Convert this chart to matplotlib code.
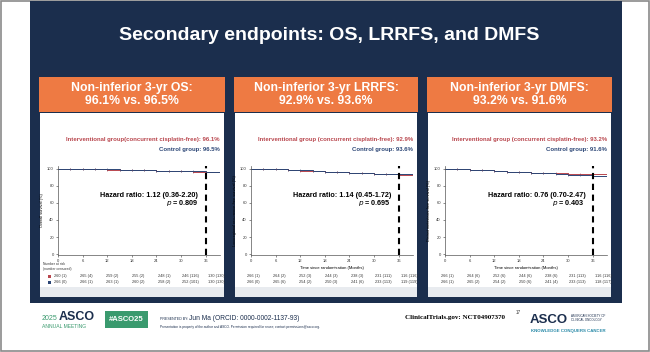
import matplotlib
matplotlib.use("Agg")
import matplotlib.pyplot as plt
from matplotlib.patches import Rectangle

plt.rcParams['font.family'] = ['Liberation Sans', 'DejaVu Sans']

W, H = 650, 352
NAVY = "#1b2e4d"
ORANGE = "#ee7a43"
RED = "#b9474e"
BLUE = "#2c4676"

# ---- data ----
panel_titles = ["Non-inferior 3-yr OS:\n96.1% vs. 96.5%",
                "Non-inferior 3-yr LRRFS:\n92.9% vs. 93.6%",
                "Non-inferior 3-yr DMFS:\n93.2% vs. 91.6%"]
red_labels = ["Interventional group(concurrent cisplatin-free): 96.1%",
              "Interventional group (concurrent cisplatin-free): 92.9%",
              "Interventional group (concurrent cisplatin-free): 93.2%"]
blue_labels = ["Control group: 96.5%", "Control group: 93.6%", "Control group: 91.6%"]
hazard_texts = ["Hazard ratio: 1.12 (0.36-2.20)",
                "Hazard ratio: 1.14 (0.45-1.72)",
                "Hazard ratio: 0.76 (0.70-2.47)"]
p_texts = ["0.809", "0.695", "0.403"]
ylabels = ["Overall survival (%)",
           "Locoregional recurrence-free survival (%)",
           "Distant metastasis-free survival (%)"]

times = [0, 3, 6, 9, 12, 15, 18, 21, 24, 27, 30, 33, 36, 39.5]
os_int = [100, 99.8, 99.5, 99.2, 98.9, 98.6, 98.2, 97.8, 97.4, 97.0, 96.6, 96.3, 96.1, 96.1]
os_ctl = [100, 99.8, 99.6, 99.3, 99.0, 98.7, 98.3, 97.9, 97.5, 97.2, 96.9, 96.7, 96.5, 96.5]
lrrfs_int = [100, 99.6, 99.0, 98.4, 97.6, 96.9, 96.2, 95.5, 94.9, 94.3, 93.7, 93.3, 92.9, 92.9]
lrrfs_ctl = [100, 99.7, 99.2, 98.6, 97.9, 97.2, 96.5, 95.8, 95.2, 94.7, 94.2, 93.9, 93.6, 93.6]
dmfs_int = [100, 99.6, 98.8, 97.8, 96.9, 96.3, 95.8, 95.3, 94.8, 94.3, 93.8, 93.5, 93.2, 93.2]
dmfs_ctl = [100, 99.8, 98.9, 97.9, 97.0, 96.4, 95.8, 95.2, 94.5, 93.7, 92.9, 92.2, 91.6, 90.0]
curves = [(os_int, os_ctl), (lrrfs_int, lrrfs_ctl), (dmfs_int, dmfs_ctl)]

xticks = [0, 6, 12, 18, 24, 30, 36]
risk_int = [["260 (1)", "265 (4)", "259 (2)", "255 (2)", "248 (1)", "246 (116)", "130 (130)"],
            ["266 (1)", "264 (2)", "252 (3)", "244 (3)", "238 (3)", "231 (111)", "116 (116)"],
            ["266 (1)", "264 (6)", "252 (6)", "244 (6)", "238 (6)", "231 (113)", "116 (116)"]]
risk_ctl = [["266 (0)", "266 (1)", "263 (1)", "260 (2)", "258 (2)", "252 (101)", "130 (130)"],
            ["266 (0)", "265 (6)", "254 (2)", "250 (3)", "241 (6)", "233 (113)", "119 (119)"],
            ["266 (1)", "265 (2)", "254 (2)", "250 (6)", "241 (4)", "233 (113)", "118 (117)"]]

fig = plt.figure(figsize=(W / 100, H / 100), dpi=100)
bg = fig.add_axes([0, 0, 1, 1])
bg.set_xlim(0, W)
bg.set_ylim(H, 0)
bg.axis("off")

bg.add_patch(Rectangle((0.5, 0.5), W - 1.5, H - 1.5, fc="white", ec="#8a8a8a", lw=1.2))
bg.add_patch(Rectangle((30, 1), 592, 302, fc=NAVY, ec="none"))
bg.text(329, 35, "Secondary endpoints: OS, LRRFS, and DMFS", color="white",
        fontsize=14, fontweight="bold", ha="center", va="center")

panel_x = [(39, 225), (234, 418), (427, 612)]
axes_x = [58, 251, 445]

for i in range(3):
    x0, x1 = panel_x[i]
    bg.add_patch(Rectangle((x0, 77), x1 - x0, 35, fc=ORANGE, ec="none"))
    bg.text((x0 + x1) / 2, 94.5, panel_titles[i], color="white", fontsize=8.8,
            fontweight="bold", ha="center", va="center", linespacing=1.2)
    bg.add_patch(Rectangle((x0 + 1, 113), x1 - x0 - 2, 184, fc="white", ec="none"))
    bg.add_patch(Rectangle((x0 + 1, 287), x1 - x0 - 2, 10, fc="#e8ebef", ec="none"))
    bg.text(x1 - 5, 140, red_labels[i], color=RED, fontsize=4.3, fontweight="bold",
            ha="right", va="center")
    bg.text(x1 - 5, 150, blue_labels[i], color=BLUE, fontsize=4.3, fontweight="bold",
            ha="right", va="center")

    # Kaplan-Meier plot
    ax0 = axes_x[i]
    ax = fig.add_axes([ax0 / W, 1 - 255 / H, 162 / W, 89 / H])
    ax.patch.set_alpha(0)
    a, c = curves[i]
    ax.step(times, a, where="post", color=RED, lw=0.7)
    ax.step(times, c, where="post", color=BLUE, lw=0.7)
    ax.plot(times[1:-1], a[1:-1], ls="none", marker="|", ms=2, mew=0.4, color=RED)
    ax.plot(times[1:-1], c[1:-1], ls="none", marker="|", ms=2, mew=0.4, color=BLUE)
    ax.axvline(36, color="black", lw=1.5, ls=(0, (3, 2.2)))
    ax.set_xlim(0, 39.5)
    ax.set_ylim(-1, 103)
    ax.set_xticks(xticks)
    ax.set_yticks([0, 20, 40, 60, 80, 100])
    ax.tick_params(labelsize=3, length=1.5, width=0.4, pad=1.5, colors="#333333")
    for s in ["top", "right"]:
        ax.spines[s].set_visible(False)
    for s in ["left", "bottom"]:
        ax.spines[s].set_linewidth(0.5)
        ax.spines[s].set_color("#555555")
    ax.set_ylabel(ylabels[i], fontsize=2.8, labelpad=2)
    if i > 0:
        ax.set_xlabel("Time since randomisation (Months)", fontsize=3, labelpad=2)
    ax.text(34.2, 69, hazard_texts[i], fontsize=5.2, fontweight="bold", ha="right", va="center")
    ax.text(34.2, 60, "$\\it{p}$ = " + p_texts[i], fontsize=5.2, fontweight="bold",
            ha="right", va="center")

    # number at risk rows
    for j, t in enumerate(xticks):
        xp = ax0 + (t + 0.5 + 0.06 * t) * 162 / 39.5
        bg.text(xp, 276, risk_int[i][j], fontsize=2.8, ha="center", va="center", color="#333333")
        bg.text(xp, 282, risk_ctl[i][j], fontsize=2.8, ha="center", va="center", color="#333333")

bg.text(43, 266.5, "Number at risk\n(number censored)", fontsize=2.4, ha="left", va="center",
        color="#333333", linespacing=1.1)
bg.add_patch(Rectangle((48, 274.5), 3, 3, fc=RED, ec="none"))
bg.add_patch(Rectangle((48, 280.5), 3, 3, fc=BLUE, ec="none"))

# footer
bg.text(42, 318.5, "2025", color="#3a9a6e", fontsize=5, ha="left", va="center")
bg.text(59, 317.5, "ASCO", color=NAVY, fontsize=9, fontweight="bold", ha="left", va="center")
bg.text(42, 326, "ANNUAL MEETING", color="#3a9a6e", fontsize=3.6, ha="left", va="center")
bg.add_patch(Rectangle((105, 311), 43, 17, fc="#3a9a6e", ec="none"))
bg.text(126.5, 319.5, "#ASCO25", color="white", fontsize=5.5, fontweight="bold",
        ha="center", va="center")
bg.text(160, 319, "PRESENTED BY:", color=NAVY, fontsize=2.6, ha="left", va="center")
bg.text(189, 318.5, "Jun Ma (ORCID: 0000-0002-1137-93)", color=NAVY, fontsize=4.8,
        ha="left", va="center")
bg.text(160, 327, "Presentation is property of the author and ASCO. Permission required for reuse; "
        "contact permissions@asco.org.", color=NAVY, fontsize=2.3, ha="left", va="center")
bg.text(405, 318, "ClinicalTrials.gov: NCT04907370", color="black", fontsize=5,
        fontweight="bold", family=["Liberation Serif", "DejaVu Serif"], ha="left", va="center")
bg.text(516, 313, "17", color="#333333", fontsize=3.3, ha="left", va="center")
bg.text(530, 320, "ASCO", color=NAVY, fontsize=9.5, fontweight="bold", ha="left", va="center")
bg.text(571, 318, "AMERICAN SOCIETY OF\nCLINICAL ONCOLOGY", color=NAVY, fontsize=2.2,
        ha="left", va="center", linespacing=1.1)
bg.text(531, 331, "KNOWLEDGE CONQUERS CANCER", color="#2a8aa8", fontsize=3.2,
        fontweight="bold", ha="left", va="center")

fig.savefig("out.png", dpi=100)
